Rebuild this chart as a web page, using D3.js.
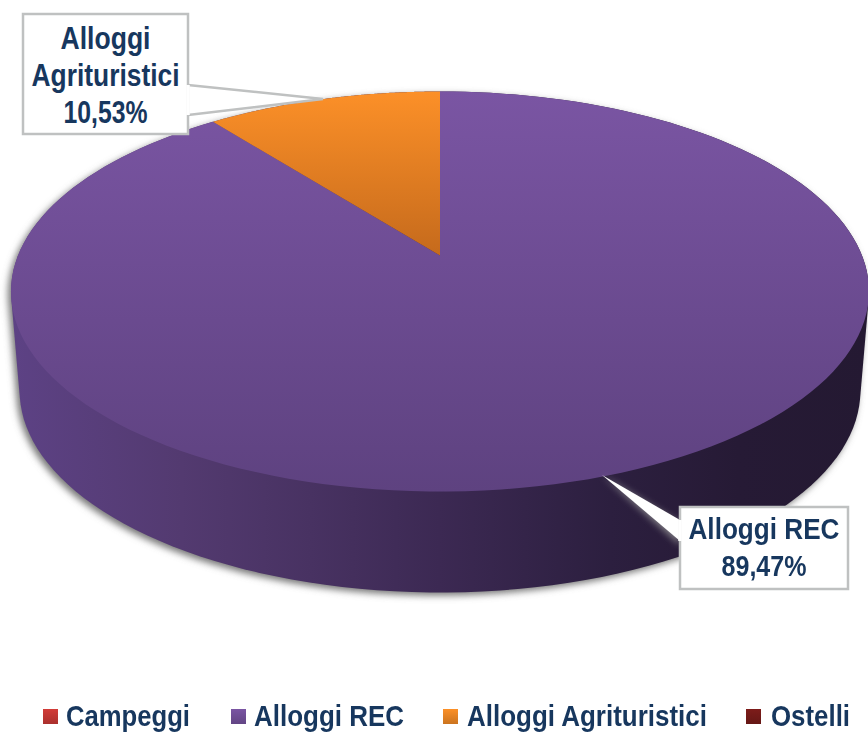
<!DOCTYPE html>
<html><head><meta charset="utf-8">
<script src="https://cdn.jsdelivr.net/npm/d3@7"></script>
<style>html,body{margin:0;padding:0;background:#fff}svg{display:block;filter:blur(0.5px)}text{font-family:"Liberation Sans",Arial,sans-serif;font-weight:700;fill:#17375e}</style>
</head><body><svg id="c" width="868" height="733"></svg>
<script>
const categories = ["Campeggi","Alloggi REC","Alloggi Agrituristici","Ostelli"];
const values = [0,89.47,10.53,0];
const colours = ["#d23c38","#7a55a3","#fc9027","#7d1c1a"];
const calloutLines = [["Alloggi","Agrituristici","10,53%"],["Alloggi REC","89,47%"]];

const svg=d3.select("#c");
const defs=svg.append("defs");
const cx=440,cy=291.5,R=422,Ry=200,C=0.18,B=-36,depth=99;
// perspective projection of a unit circle
const proj=(a,lower=false)=>{const x=Math.sin(a),y=-Math.cos(a),d=1-C*y;
  const X=R*x/d,Y=(Ry*y+B)/d;
  return lower?[cx+X*0.98,cy+depth+Y*1.01]:[cx+X,cy+Y];};
const pie=d3.pie().sort(null).value(d=>d)(values);
const line=d3.line();
const samples=(a0,a1,n)=>d3.range(n+1).map(i=>a0+(a1-a0)*i/n);

function vgrad(id,col,dark,y0,y1,units){
  const g=defs.append("linearGradient").attr("id",id).attr("x1",0).attr("x2",0);
  if(units)g.attr("gradientUnits","userSpaceOnUse").attr("y1",y0).attr("y2",y1);else g.attr("y1",0).attr("y2",1);
  g.append("stop").attr("offset",0).attr("stop-color",col);
  g.append("stop").attr("offset",1).attr("stop-color",dark);
}
vgrad("top1","#7a55a3","#5e4280",91,492,true);
vgrad("top2","#fc9028","#c56a1c",91,256,true);
colours.forEach((c,i)=>vgrad("sw"+i,c,d3.color(c).darker(0.6).formatHex()));
const sg=defs.append("linearGradient").attr("id","side").attr("gradientUnits","userSpaceOnUse").attr("x1",10).attr("x2",868).attr("y1",0).attr("y2",0);
[[0,"#5d4285"],[0.2,"#533a70"],[0.35,"#483262"],[0.5,"#3c2953"],[0.7,"#2c1f3f"],[0.85,"#261a35"],[1,"#241932"]]
 .forEach(s=>sg.append("stop").attr("offset",s[0]).attr("stop-color",s[1]));
defs.append("filter").attr("id","sh").attr("x","-5%").attr("y","-5%").attr("width","110%").attr("height","110%")
  .append("feGaussianBlur").attr("stdDeviation",3.5);

// side wall silhouette, from each slice's upper and lower rim
const rimPts=[];
pie.forEach(p=>{ if(p.endAngle-p.startAngle<=0)return;
  samples(p.startAngle,p.endAngle,160).forEach(a=>{rimPts.push(proj(a));rimPts.push(proj(a,true));});
});
const hull=d3.polygonHull(rimPts);
// drop shadow
svg.append("path").attr("d",line(hull)+"Z").attr("transform","translate(-3,3)")
  .attr("fill","#777").attr("filter","url(#sh)");
svg.append("path").attr("d",line(hull)+"Z").attr("fill","url(#side)");

// top faces
const apex=[cx,cy+B];
pie.forEach((p,i)=>{ if(p.endAngle-p.startAngle<=0)return;
  const s=samples(p.startAngle,p.endAngle,160);
  svg.append("path").attr("d",line([apex].concat(s.map(a=>proj(a))))+"Z")
    .attr("fill",i===1?"url(#top1)":"url(#top2)");
});

// callouts
const boxes=[{x:23,y:14,w:165,h:120,ty:[49,86,123],tw:[90,148,84],tx:105.5,
   tip:[323,99],base:[[188,85],[188,115]],fs:31},
  {x:680,y:507,w:168,h:82,ty:[539,576],tw:[151,85],tx:764,
   tip:[602,475],base:[[680,520],[680,541]],fs:29}];
boxes.forEach((b,i)=>{
  if(i===1) svg.append("path").attr("d",line([b.tip,[b.base[0][0],b.base[0][1]+3],[b.base[1][0],b.base[1][1]+4]])+"Z")
     .attr("fill","#999").attr("filter","url(#sh)").attr("opacity",0.8);
  svg.append("path").attr("d",line([b.base[0],b.tip,b.base[1]])).attr("fill","#fff")
    .attr("stroke",i===0?"#bfc1c1":"none").attr("stroke-width",2.5);
  svg.append("rect").attr("x",b.x).attr("y",b.y).attr("width",b.w).attr("height",b.h)
    .attr("fill","#fff").attr("stroke","#bfc1c1").attr("stroke-width",2.5);
  svg.append("path").attr("d",line(b.base)).attr("stroke","#fff").attr("stroke-width",3.5).attr("fill","none");
  calloutLines[i].forEach((t,j)=>svg.append("text").attr("x",b.tx).attr("y",b.ty[j]).attr("text-anchor","middle")
    .attr("font-size",b.fs).attr("textLength",b.tw[j]).attr("lengthAdjust","spacingAndGlyphs").text(t));
});

// legend
const legendX=[[43,66,124],[231,254,150],[443,467,240],[746,771,79]];
categories.forEach((c,i)=>{
  svg.append("rect").attr("x",legendX[i][0]).attr("y",709).attr("width",15).attr("height",15).attr("fill",`url(#sw${i})`);
  svg.append("text").attr("x",legendX[i][1]).attr("y",726).attr("font-size",30)
    .attr("textLength",legendX[i][2]).attr("lengthAdjust","spacingAndGlyphs").text(c);
});
</script></body></html>
